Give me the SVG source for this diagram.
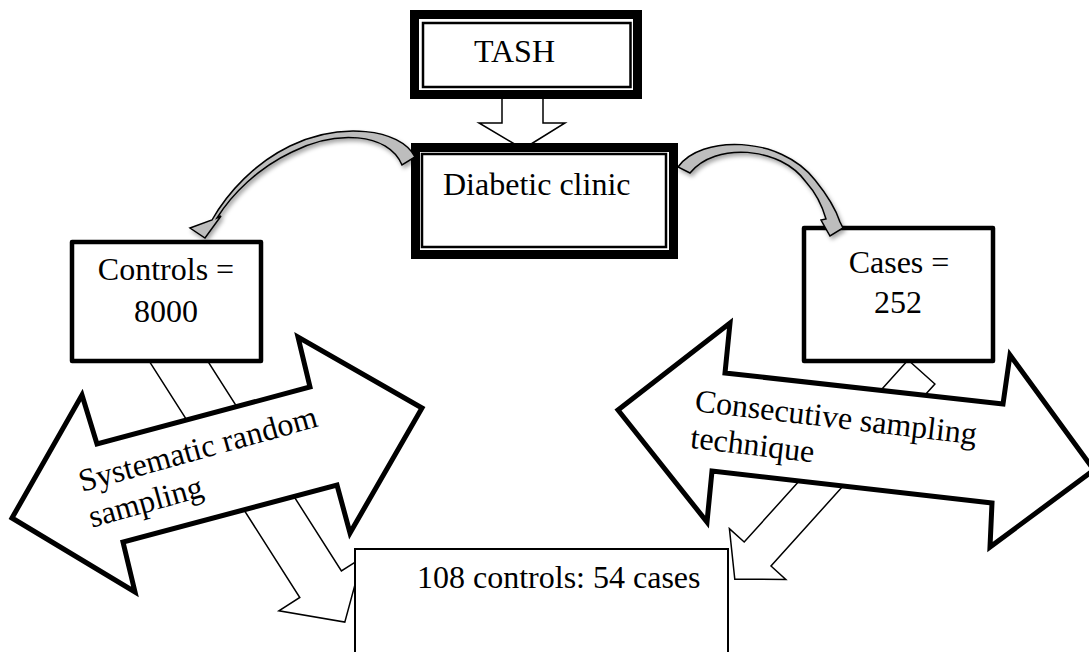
<svg xmlns="http://www.w3.org/2000/svg" width="1089" height="652" viewBox="0 0 1089 652">
<defs>
<style>
text{font-family:"Liberation Serif","Times New Roman",serif;font-size:32px;fill:#000}
.thin{fill:#fff;stroke:#000;stroke-width:1.5}
.box{fill:#fff;stroke:#000;stroke-width:4.5;stroke-linejoin:round}
.dbl{fill:#fff;stroke:#000;stroke-width:5;stroke-linejoin:miter;stroke-miterlimit:10}
.band{fill:#fff;stroke:#000;stroke-width:9}
.inner{fill:none;stroke:#000;stroke-width:2.5}
.curve{fill:#bdbdbd;stroke:#000;stroke-width:1.5;stroke-linejoin:miter;filter:url(#sh)}
</style>
<filter id="sh" x="-20%" y="-20%" width="140%" height="140%">
<feDropShadow dx="2" dy="3" stdDeviation="2" flood-color="#000" flood-opacity="0.35"/>
</filter>
</defs>
<rect width="1089" height="652" fill="#fff"/>
<g id="connectors">
<polygon id="arrow-tash-clinic" class="thin" points="502,95 543,95 543,123 565,123 523,149 479,123 502,123"/>
<polygon id="arrow-controls-result" class="thin" points="138.7,344.6 299.8,597.5 278.9,610.8 344.8,622.1 362.3,557.6 341.4,570.9 180.3,318"/>
<polygon id="arrow-cases-result" class="thin" points="908.1,360 744.2,542 729.4,528.6 734.8,579.3 785.8,579.4 771,566 934.9,384"/>
</g>
<g id="tash">
<rect class="band" x="414.5" y="14.5" width="223" height="80"/>
<rect class="inner" x="423" y="23" width="207.5" height="64"/>
<text x="474" y="62">TASH</text>
</g>
<g id="diabetic-clinic">
<rect class="band" x="415.5" y="147.5" width="258" height="107"/>
<rect class="inner" x="422" y="154" width="244" height="93"/>
<text x="443" y="195">Diabetic clinic</text>
</g>
<g id="controls">
<rect class="box" x="72" y="242" width="189" height="119"/>
<text x="166" y="280" text-anchor="middle">Controls =</text>
<text x="166" y="322" text-anchor="middle">8000</text>
</g>
<g id="cases">
<rect class="box" x="804" y="228" width="189" height="133"/>
<text x="899" y="273" text-anchor="middle">Cases =</text>
<text x="898" y="313" text-anchor="middle">252</text>
</g>
<g id="systematic-random-sampling">
<polygon class="dbl" points="12,518 82,395 97,444 310,387 298,337 422,408 350,533 337,485 123,542 135,592"/>
<text transform="translate(82,492) rotate(-15.5)"><tspan x="0" y="0">Systematic random</tspan><tspan x="0" y="37">sampling</tspan></text>
</g>
<g id="consecutive-sampling">
<polygon class="dbl" points="618,410 730,323 725,373 1003,404 1010,355 1094,470 990,547 992,503 712,471 707,522"/>
<text transform="translate(694,411) rotate(6.8)"><tspan x="0" y="0">Consecutive sampling</tspan><tspan x="0" y="37">technique</tspan></text>
</g>
<g id="result">
<rect x="355" y="549" width="373" height="120" fill="#fff" stroke="#000" stroke-width="2"/>
<text x="417" y="588">108 controls: 54 cases</text>
</g>
<g id="curved-connectors">
<path id="curve-left" class="curve" d="M415,157 C400,128 340,122 290,146 C255,163 228,192 212,220 L190,228 L205,238 L221,216 L217,218 C232,194 258,168 292,152 C335,130 388,132 402,165 Z"/>
<path id="curve-right" class="curve" d="M678,167 C700,135 780,135 815,180 C828,196 836,210 840,222 L843,228 L830,236 L821,220 L826,219 C822,205 815,192 806,182 C780,146 715,142 690,173 Z"/>
</g>
</svg>
